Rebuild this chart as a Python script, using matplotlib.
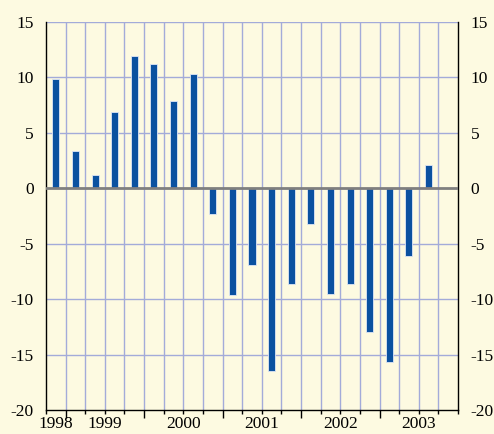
import matplotlib
matplotlib.use("Agg")
import matplotlib.pyplot as plt
from matplotlib.transforms import blended_transform_factory
import numpy as np

# Quarterly values, 1998 Q4 .. 2003 Q3
values = [9.9, 3.4, 1.2, 6.9, 11.9, 11.2, 7.9, 10.3,
          -2.3, -9.6, -6.9, -16.5, -8.6, -3.2, -9.5, -8.6,
          -13.0, -15.7, -6.1, 2.1]
years = ["1998", "1999", "2000", "2001", "2002", "2003"]
year_slots = [1, 4, 4, 4, 4, 4]  # quarters of each year on the axis
yticks = [-20, -15, -10, -5, 0, 5, 10, 15]

bg = "#fdfae1"
bar_color = "#0a51a0"
grid_color = "#a3abd9"

plt.rcParams['font.family'] = ['Liberation Serif', 'DejaVu Serif']

fig = plt.figure(figsize=(4.94, 4.34), dpi=100, facecolor=bg)
ax = fig.add_axes([46/494, 1-410/434, (458-46)/494, (410-22)/434])
ax.set_facecolor(bg)

n_slots = sum(year_slots)
x = np.arange(len(values))
ax.set_xlim(-0.5, n_slots - 0.5)
ax.set_ylim(-20, 15)

# grid
for b in np.arange(0.5, n_slots - 0.5, 1):
    ax.axvline(b, color=grid_color, lw=1.0, zorder=1)
for yv in yticks:
    if yv not in (0, -20):
        ax.axhline(yv, color=grid_color, lw=1.0, zorder=1)

ax.bar(x, values, width=0.36, color=bar_color, edgecolor="#dfe6f5",
       linewidth=0.6, zorder=2)
ax.axhline(0, color="#7f7f7f", lw=2.0, zorder=3)

# spines
ax.spines['top'].set_visible(False)
for s in ['left', 'right', 'bottom']:
    ax.spines[s].set_color('black')
    ax.spines[s].set_linewidth(1.0)

ax.set_yticks(yticks)
ax.set_yticklabels([str(v) for v in yticks])
ax.tick_params(axis='y', length=0, labelsize=12.5, pad=9,
               left=False, right=False, labelleft=True, labelright=True)

# x ticks: year boundaries major, quarter boundaries minor
bounds = np.cumsum(year_slots)[:-1] - 0.5
ax.set_xticks(bounds)
ax.set_xticks(np.arange(-0.5, n_slots, 1), minor=True)
ax.tick_params(axis='x', which='major', length=6, width=1.0, direction='out',
               labelbottom=False, color='black')
ax.tick_params(axis='x', which='minor', length=3, width=1.0, direction='out',
               color='black')

# year labels centred on each year's span
trans = blended_transform_factory(ax.transData, ax.transAxes)
start = -0.5
for yr, n in zip(years, year_slots):
    ax.text(start + n / 2, -0.047, yr, transform=trans, ha='center',
            va='baseline', fontsize=12.5)
    start += n

fig.savefig("out.png", dpi=100, facecolor=bg)
